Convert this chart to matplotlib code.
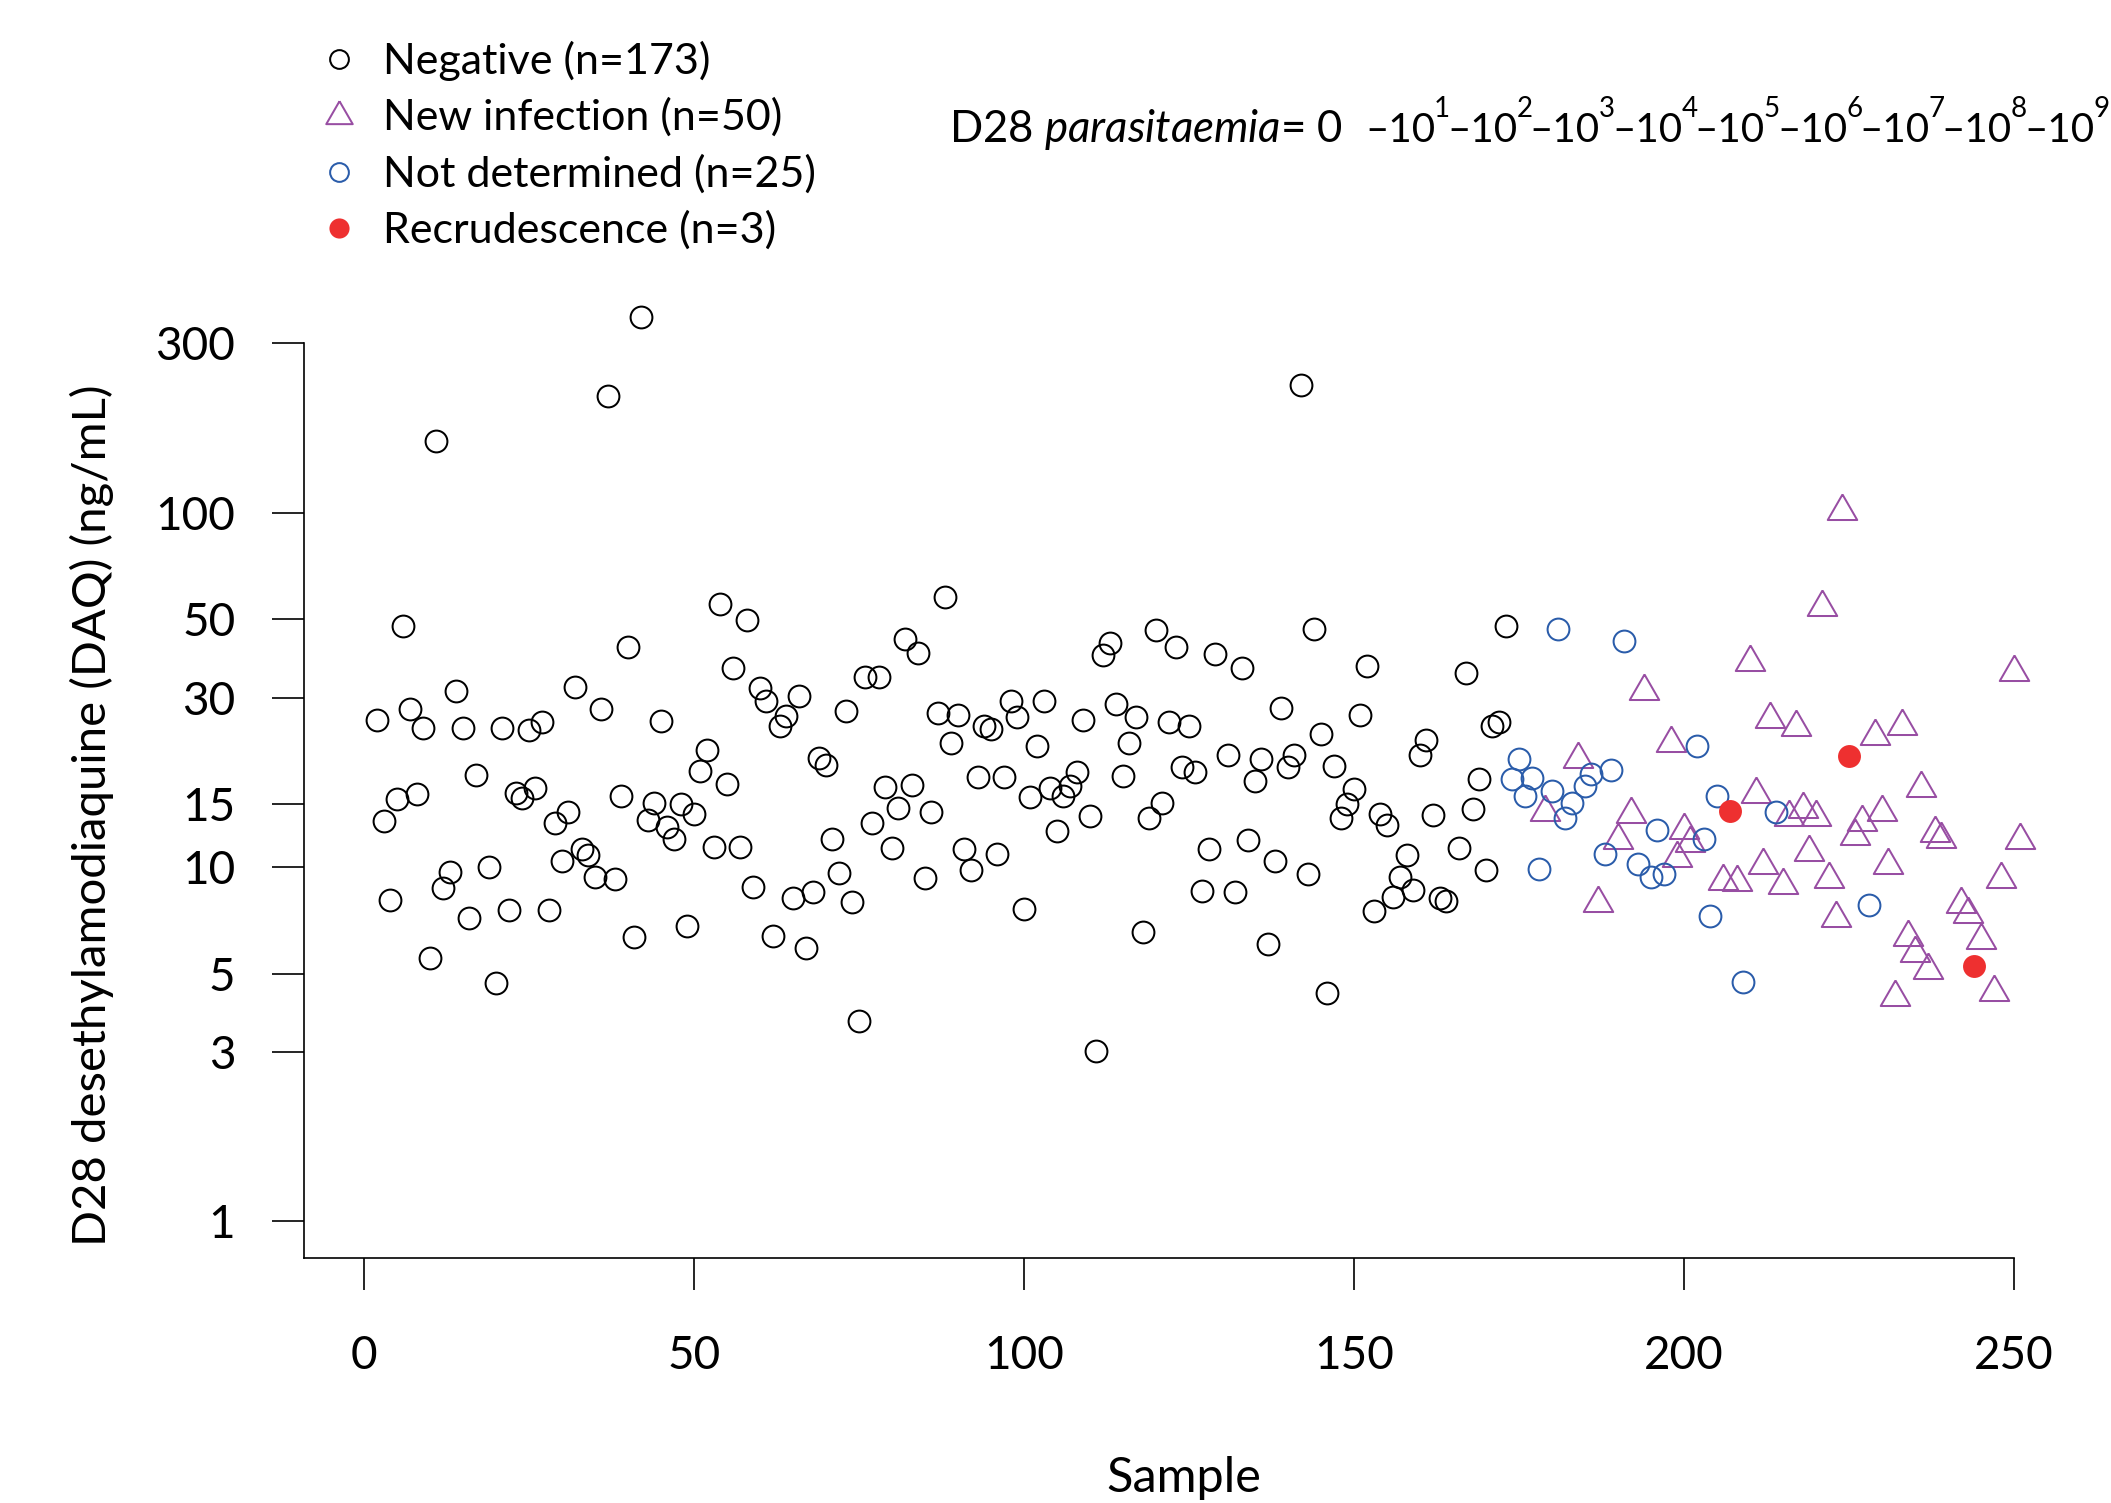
import numpy as np
import matplotlib
matplotlib.use("Agg")
import matplotlib.pyplot as plt

plt.rcParams['font.family'] = ['Lato', 'DejaVu Sans']
plt.rcParams['mathtext.fontset'] = 'custom'
plt.rcParams['mathtext.rm'] = 'Lato'
plt.rcParams['mathtext.it'] = 'Lato:italic'
plt.rcParams['mathtext.bf'] = 'Lato:bold'

# ---------------- data ----------------
neg_x = [2, 3, 4, 5, 6, 7, 8, 9, 10, 11, 12, 13, 14, 15, 16, 17, 19, 20, 21, 22,
         23, 24, 25, 26, 27, 28, 29, 30, 31, 32, 33, 34, 35, 36, 37, 38, 39, 40, 41, 42,
         43, 44, 45, 46, 47, 48, 49, 50, 51, 52, 53, 54, 55, 56, 57, 58, 59, 60, 61, 62,
         63, 64, 65, 66, 67, 68, 69, 70, 71, 72, 73, 74, 75, 76, 77, 78, 79, 80, 81, 82,
         83, 84, 85, 86, 87, 88, 89, 90, 91, 92, 93, 94, 95, 96, 97, 98, 99, 100, 101, 102,
         103, 104, 105, 106, 107, 108, 109, 110, 111, 112, 113, 114, 115, 116, 117, 118, 119, 120, 121, 122,
         123, 124, 125, 126, 127, 128, 129, 131, 132, 133, 134, 135, 136, 137, 138, 139, 140, 141, 142, 143,
         144, 145, 146, 147, 148, 149, 150, 151, 152, 153, 154, 155, 156, 157, 158, 159, 160, 161, 162, 163,
         164, 166, 167, 168, 169, 170, 171, 172, 173]
neg_y = [26.0, 13.5, 8.04, 15.5, 47.9, 27.9, 16.1, 24.7, 5.53, 159, 8.71, 9.68, 31.3, 24.7, 7.16, 18.2, 9.97, 4.70, 24.7, 7.58,
         16.2, 15.6, 24.4, 16.7, 25.6, 7.58, 13.3, 10.4, 14.3, 32.1, 11.2, 10.8, 9.36, 27.9, 213, 9.27, 15.9, 41.6, 6.36, 357,
         13.6, 15.1, 25.8, 13.0, 12.0, 15.0, 6.82, 14.1, 18.6, 21.4, 11.4, 55.1, 17.1, 36.3, 11.4, 49.8, 8.77, 31.9, 29.4, 6.40,
         24.9, 26.6, 8.18, 30.4, 5.91, 8.48, 20.3, 19.4, 12.0, 9.62, 27.5, 7.94, 3.68, 34.4, 13.3, 34.4, 16.8, 11.3, 14.7, 44.1,
         17.0, 40.1, 9.33, 14.3, 27.1, 57.9, 22.4, 26.8, 11.2, 9.78, 17.9, 24.9, 24.5, 10.9, 17.9, 29.3, 26.5, 7.63, 15.7, 21.9,
         29.4, 16.7, 12.6, 15.9, 16.9, 18.5, 26.0, 13.9, 3.02, 39.5, 42.7, 28.9, 18.1, 22.4, 26.5, 6.57, 13.7, 46.5, 15.1, 25.6,
         41.8, 19.1, 24.9, 18.5, 8.56, 11.2, 39.8, 20.7, 8.5, 36.4, 11.9, 17.5, 20.2, 6.05, 10.4, 28.1, 19.1, 20.7, 229, 9.52,
         47.0, 23.7, 4.42, 19.3, 13.7, 15.0, 16.6, 26.9, 36.8, 7.50, 14.1, 13.1, 8.23, 9.36, 10.8, 8.59, 20.7, 22.8, 14.0, 8.18,
         7.99, 11.3, 35.2, 14.6, 17.7, 9.78, 25.0, 25.6, 47.9]

new_x = [179, 184, 187, 190, 192, 194, 198, 199, 200, 201, 206, 208, 210, 211, 212, 213, 215, 216, 217, 218,
         219, 220, 221, 222, 223, 224, 226, 227, 229, 230, 231, 232, 233, 234, 235, 236, 237, 238, 239, 242,
         243, 245, 247, 248, 250, 251]
new_y = [14.3, 20.1, 7.93, 11.9, 14.1, 31.4, 22.4, 10.6, 12.7, 11.7, 9.13, 9.04, 37.9, 16.1, 10.1, 26.1, 8.91, 13.8, 24.8, 14.6,
         11.0, 13.8, 54.2, 9.26, 7.16, 101, 12.2, 13.4, 23.4, 14.3, 10.1, 4.30, 24.9, 6.35, 5.71, 16.7, 5.11, 12.5, 12.0, 7.87,
         7.35, 6.20, 4.45, 9.26, 35.4, 11.9]

nd_x = [174, 175, 176, 177, 178, 180, 181, 182, 183, 185, 186, 188, 189, 191, 193, 195, 196, 197, 202, 203,
        204, 205, 209, 214, 228]
nd_y = [17.7, 20.2, 15.9, 17.8, 9.87, 16.4, 47.0, 13.7, 15.1, 16.9, 18.3, 10.9, 18.8, 43.4, 10.2, 9.36, 12.7, 9.58, 21.9, 12.0,
        7.26, 15.8, 4.73, 14.3, 7.83]

rec_x = [207, 225, 244]
rec_y = [14.4, 20.6, 5.24]

legend_labels = ["Negative (n=173)", "New infection (n=50)",
                 "Not determined (n=25)", "Recrudescence (n=3)"]
y_ticks = [1, 3, 5, 10, 15, 30, 50, 100, 300]
x_ticks = [0, 50, 100, 150, 200, 250]
parasitaemia_exponents = ["1", "2", "3", "4", "5", "6", "7", "8", "9"]

# ---------------- style ----------------
BLACK = '#000000'
PURPLE = '#984EA3'
BLUE = '#2A5CAA'
RED = '#EE3030'
tri = [(0, 1.555), (1.347, -0.778), (-1.347, -0.778), (0, 1.555)]

W, H = 2111, 1503
fig = plt.figure(figsize=(W / 100, H / 100), dpi=100)
ax = fig.add_axes([304.3 / W, 1 - 1257.7 / H, (2086.3 - 304.3) / W, (1257.7 - 274.7) / H])

ax.set_yscale('log')
ax.set_xlim(-9, 261)
ax.set_ylim(10 ** -0.1027, 10 ** 2.671)

lw = 1.45
ax.plot(neg_x, neg_y, ls='none', marker='o', ms=15.7, mfc='none', mec=BLACK, mew=lw)
ax.plot(new_x, new_y, ls='none', marker=tri, ms=24.5, mfc='none', mec=PURPLE, mew=lw)
ax.plot(nd_x, nd_y, ls='none', marker='o', ms=15.7, mfc='none', mec=BLUE, mew=lw)
ax.plot(rec_x, rec_y, ls='none', marker='o', ms=16.5, mfc=RED, mec='none', mew=0)

for s in ['top', 'right']:
    ax.spines[s].set_visible(False)
for s in ['left', 'bottom']:
    ax.spines[s].set_linewidth(1.2)
ax.spines['left'].set_bounds(10 ** -0.1027, 300)
ax.spines['bottom'].set_bounds(-9, 250)

ax.set_yticks(y_ticks)
ax.set_yticklabels([str(t) for t in y_ticks])
ax.yaxis.set_minor_locator(matplotlib.ticker.NullLocator())
ax.set_xticks(x_ticks)
ax.set_xticklabels([str(t) for t in x_ticks])
ax.tick_params(axis='both', which='major', length=22.7, width=1.2, labelsize=33, direction='out')
ax.tick_params(axis='x', pad=33)
ax.tick_params(axis='y', pad=27)

fig.text(92 / W, 1 - 815 / H, "D28 desethylamodiaquine (DAQ) (ng/mL)", rotation=90,
         ha='center', va='center', fontsize=34)
fig.text(1184 / W, 1 - 1491.7 / H, "Sample", ha='center', va='baseline', fontsize=35)

# legend (drawn in figure pixel space)
ov = fig.add_axes([0, 0, 1, 1], facecolor='none')
ov.set_xlim(0, W)
ov.set_ylim(H, 0)
ov.axis('off')
rows = [61, 117.5, 174, 230]
styles = [dict(marker='o', ms=13.5, mfc='none', mec=BLACK, mew=lw),
          dict(marker=tri, ms=22, mfc='none', mec=PURPLE, mew=lw),
          dict(marker='o', ms=13.5, mfc='none', mec=BLUE, mew=lw),
          dict(marker='o', ms=14.5, mfc=RED, mec='none', mew=0)]
for yy, lab, st in zip(rows, legend_labels, styles):
    ov.plot([339], [yy - 2], ls='none', **st)
    ov.text(383, yy, lab, ha='left', va='center', fontsize=31)

# parasitaemia scale annotation
base_y = 141.7
ov.text(949, base_y, r"D28 $\mathit{parasitaemia}$= 0", ha='left', va='baseline', fontsize=31.5)
x0, pitch = 1365, 82.4
for k, e in enumerate(parasitaemia_exponents):
    xd = x0 + k * pitch
    ov.text(xd, base_y, "–10", ha='left', va='baseline', fontsize=29)
    ov.text(xd + 69, base_y - 25, e, ha='left', va='baseline', fontsize=20, clip_on=False)

fig.savefig("out.png", dpi=100)
